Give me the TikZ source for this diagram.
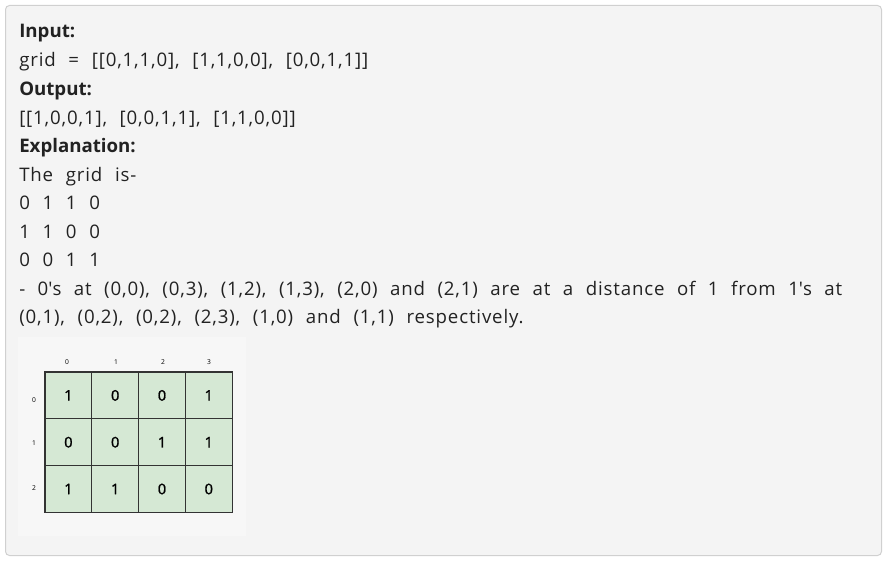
\documentclass[tikz,border=0pt]{standalone}
\usepackage{fontspec}
\setmainfont[LetterSpace=4.5,BoldFeatures={LetterSpace=0}]{Open Sans}
\newfontfamily\cellfont[FakeBold=1.2]{Open Sans}
\definecolor{boxfill}{HTML}{F4F4F4}
\definecolor{boxline}{HTML}{D0D0D0}
\definecolor{imgfill}{HTML}{F7F7F7}
\definecolor{cellfill}{HTML}{D5E8D4}
\definecolor{celline}{HTML}{333333}
\definecolor{txtcol}{HTML}{222222}
\newcommand{\bodyfont}{\fontsize{14}{16}\selectfont\spaceskip=9.5pt plus 4pt minus 1pt\relax}
\newcommand{\sq}{\textquotesingle}
\begin{document}
\begin{tikzpicture}[x=0.75pt,y=-0.75pt,
  txt/.style={anchor=base west, inner sep=0pt, text=txtcol, font=\bodyfont},
  hd/.style={txt, font=\bodyfont\bfseries},
  cell/.style={draw=celline, fill=cellfill, line width=0.8pt, minimum size=35.1pt, inner sep=0pt, text=black, font=\cellfont\fontsize{11}{12}\selectfont},
  idx/.style={inner sep=0pt, font=\fontsize{5}{6}\selectfont}]
\useasboundingbox (0,0) rectangle (892,566);
\draw[draw=boxline, fill=boxfill, rounded corners=3pt, line width=0.75pt] (5.5,5.5) rectangle (881.5,555.5);
\node[hd]  (l1) at (19,38)    {Input:};
\node[txt] (l2) at (19,66.7)  {grid = [[0,1,1,0], [1,1,0,0], [0,0,1,1]]};
\node[hd]  (l3) at (19,95.4)  {Output:};
\node[txt] (l4) at (19,124.1) {[[1,0,0,1], [0,0,1,1], [1,1,0,0]]};
\node[hd]  (l5) at (19,152.8) {Explanation:};
\node[txt] (l6) at (19,181.5) {The grid is-};
\node[txt] (l7) at (19,209.6) {0 1 1 0};
\node[txt] (l8) at (19,238.2) {1 1 0 0};
\node[txt] (l9) at (19,266.6) {0 0 1 1};
\node[txt] (l10) at (19,295.3) {\makebox[617.25pt][s]{- 0\sq s at (0,0), (0,3), (1,2), (1,3), (2,0) and (2,1) are at a distance of 1 from 1\sq s at}};
\node[txt] (l11) at (19,324) {(0,1), (0,2), (0,2), (2,3), (1,0) and (1,1) respectively.};
\fill[imgfill] (18,337) rectangle (246,536);
\foreach \r/\row in {0/{1,0,0,1},1/{0,0,1,1},2/{1,1,0,0}}{
  \foreach \v [count=\c from 0] in \row {
    \node[cell] (c\r\c) at ({45+46.8*(\c+0.5)},{372+46.8*(\r+0.5)}) {\v};
  }
}
\foreach \c/\x in {0/67,1/116,2/163,3/209}{
  \node[idx] (col\c) at (\x,362) {\c};
}
\foreach \r/\y in {0/400,1/443,2/488}{
  \node[idx] (row\r) at (34,\y) {\r};
}
\end{tikzpicture}
\end{document}
